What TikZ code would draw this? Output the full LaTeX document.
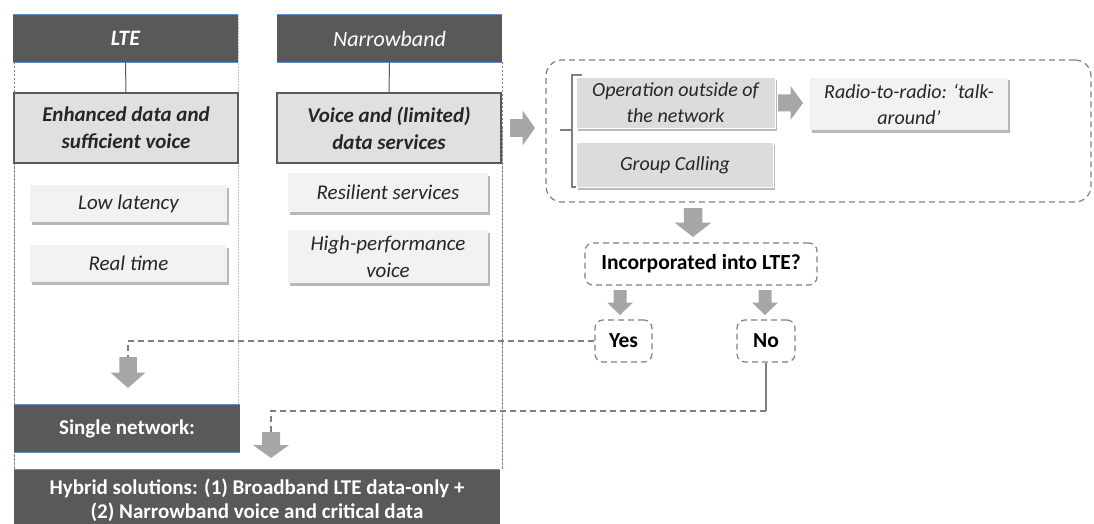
\documentclass[tikz,border=0pt]{standalone}
\usepackage{fontspec}
\setmainfont{Carlito}
\usetikzlibrary{shadows}
\definecolor{hdr}{HTML}{595959}
\definecolor{hblue}{HTML}{5B8FC9}
\definecolor{mainfill}{HTML}{E0E0E0}
\definecolor{mainline}{HTML}{5A5A5A}
\definecolor{subfill}{HTML}{F2F2F2}
\definecolor{opfill}{HTML}{DCDCDC}
\definecolor{arrgray}{HTML}{A6A6A6}
\definecolor{dashgray}{HTML}{808080}
\definecolor{txt}{HTML}{262626}
\newcommand\mydarr[5]{% name, cx, ytop, len, halfwidth
  \fill[arrgray] (#2-#5/2,#3) -- (#2+#5/2,#3) -- (#2+#5/2,#3+#4/2) -- (#2+#5,#3+#4/2)
    -- (#2,#3+#4) -- (#2-#5,#3+#4/2) -- (#2-#5/2,#3+#4/2) -- cycle;
  \coordinate (#1) at (#2,#3);}
\newcommand\myrarr[5]{% name, xleft, cy, len, halfheight
  \fill[arrgray] (#2,#3-#5/2) -- (#2,#3+#5/2) -- (#2+#4/2,#3+#5/2) -- (#2+#4/2,#3+#5)
    -- (#2+#4,#3) -- (#2+#4/2,#3-#5) -- (#2+#4/2,#3-#5/2) -- cycle;
  \coordinate (#1) at (#2,#3);}
\begin{document}
\begin{tikzpicture}[x=1pt,y=-1pt,
  hdrbox/.style={fill=hdr, text=white, inner sep=0pt, align=center},
  mainbox/.style={fill=mainfill, draw=mainline, line width=1.2pt, inner sep=0pt, align=center, text=txt,
    font=\fontsize{21pt}{27pt}\selectfont\bfseries\itshape},
  subbox/.style={fill=subfill, inner sep=0pt, align=center, text=txt,
    font=\fontsize{21pt}{27pt}\selectfont\itshape,
    drop shadow={shadow xshift=1.5pt, shadow yshift=-2.5pt, fill=black!28, opacity=1}},
  opbox/.style={fill=opfill, draw=white, line width=1pt, inner sep=0pt, align=center, text=txt,
    font=\fontsize{20pt}{26pt}\selectfont\itshape,
    drop shadow={shadow xshift=1.5pt, shadow yshift=-2.5pt, fill=black!28, opacity=1}},
  qbox/.style={draw=dashgray, line width=1.2pt, dash pattern=on 6pt off 4pt, rounded corners=8pt,
    inner sep=0pt, align=center, text=black, font=\fontsize{21.5pt}{26pt}\selectfont\bfseries},
  conn/.style={draw=mainline, line width=1pt},
  dashconn/.style={draw=dashgray, line width=1.2pt, dash pattern=on 6pt off 4pt},
  coldash/.style={draw=dashgray, line width=0.9pt, dash pattern=on 2.5pt off 1.5pt},
  lightdot/.style={draw=black!25, line width=0.9pt, dash pattern=on 2pt off 1pt},
  blueline/.style={draw=hblue, line width=1.2pt}
]
\useasboundingbox (0,0) rectangle (1094,524);

% column borders
\draw[coldash] (14,62) -- (14,470);
\draw[lightdot] (238,15) -- (238,405);
\draw[coldash] (502,62) -- (502,470);

% headers
\node[hdrbox, minimum width=225pt, minimum height=47pt, font=\fontsize{22pt}{24pt}\selectfont\bfseries\itshape] (lte) at (125.5,38.5) {LTE};
\node[hdrbox, minimum width=225pt, minimum height=47pt, font=\fontsize{22pt}{24pt}\selectfont\itshape] (nb) at (389.5,38.5) {Narrowband};
\foreach \n in {lte,nb}{
  \draw[blueline] (\n.north west) -- (\n.north east);
  \draw[blueline] (\n.south west) -- (\n.south east);
}

% main boxes
\node[mainbox, minimum width=224pt, minimum height=70pt] (enh) at (126,128) {Enhanced data and\\sufficient voice};
\node[mainbox, minimum width=224pt, minimum height=70pt] (voi) at (389,128) {Voice and (limited)\\data services};
\draw[conn] (lte.south) -- (enh.north);
\draw[conn] (nb.south) -- (voi.north);

% sub boxes
\node[subbox, minimum width=197pt, minimum height=37pt] (low) at (128.5,203.5) {Low latency};
\node[subbox, minimum width=197pt, minimum height=37pt] (real) at (128.5,263.5) {Real time};
\node[subbox, minimum width=200pt, minimum height=39pt] (res) at (388,192.5) {Resilient services};
\node[subbox, minimum width=200pt, minimum height=53pt] (hip) at (388,256.5) {High-performance\\voice};

% group box
\node[draw=dashgray, line width=1.2pt, dash pattern=on 6pt off 4pt, rounded corners=16pt,
  minimum width=545pt, minimum height=142pt, inner sep=0pt] (grp) at (818.5,131) {};
\draw[draw=dashgray, line width=1.2pt] (582,75) -- (572,75) -- (572,187) -- (582,187);
\draw[draw=dashgray, line width=1.2pt] (572,130) -- (560,130);
\node[opbox, minimum width=199pt, minimum height=51pt] (op) at (675.5,103) {Operation outside of\\the network};
\node[opbox, minimum width=197pt, minimum height=45pt] (gc) at (675,165) {Group Calling};
\node[subbox, font=\fontsize{20pt}{26pt}\selectfont\itshape, minimum width=198pt, minimum height=52pt] (rad) at (909,104) {Radio-to-radio: ‘talk-\\around’};

% block arrows
\myrarr{r1}{510}{128}{25}{17.5}
\myrarr{r2}{778}{103}{25}{17}
\mydarr{d1}{693}{208}{29}{18.5}
\mydarr{d2}{620}{290}{25}{13}
\mydarr{d3}{765}{290}{25}{13}
\mydarr{d4}{128}{357}{31}{17.5}
\mydarr{d5}{271}{432}{26}{18}

% decision
\node[qbox, minimum width=232pt, minimum height=42pt] (inc) at (701,264) {Incorporated into LTE?};
\node[qbox, minimum width=57pt, minimum height=42pt] (yes) at (623.5,341) {Yes};
\node[qbox, minimum width=58pt, minimum height=42pt] (no) at (766,341) {No};

% connectors
\draw[dashconn] (yes.west) -| (d4);
\coordinate (noturn) at (766,411);
\draw[conn, draw=dashgray, line width=1.2pt] (no.south) -- (noturn);
\draw[dashconn] (noturn) -| (d5);

% bottom
\node[hdrbox, minimum width=226pt, minimum height=47pt, font=\fontsize{21pt}{26pt}\selectfont\bfseries] (sn) at (127,428.5) {Single network:};
\draw[blueline] (sn.north west) -- (sn.north east);
\draw[blueline] (sn.south west) -- (sn.south east);
\node[hdrbox, minimum width=486pt, minimum height=60pt, font=\fontsize{21pt}{24pt}\selectfont\bfseries] (hyb) at (257,500)
  {Hybrid solutions: (1) Broadband LTE data-only +\\(2) Narrowband voice and critical data};
\draw[blueline] (hyb.north west) -- (hyb.north east);
\end{tikzpicture}
\end{document}
